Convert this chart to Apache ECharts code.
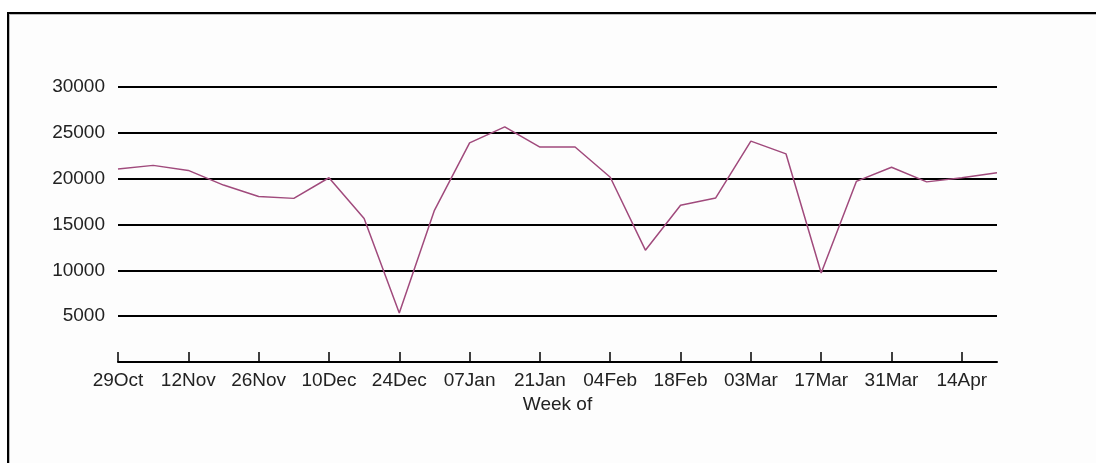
<!DOCTYPE html>
<html>
<head>
<meta charset="utf-8">
<script src="https://cdn.jsdelivr.net/npm/echarts@6/dist/echarts.min.js"></script>
<style>
html,body{margin:0;padding:0;background:#fff;}
#c{width:1096px;height:463px;}
</style>
</head>
<body>
<div id="c"></div>
<script>
const weeks = ["29Oct","05Nov","12Nov","19Nov","26Nov","03Dec","10Dec","17Dec","24Dec","31Dec",
  "07Jan","14Jan","21Jan","28Jan","04Feb","11Feb","18Feb","25Feb","03Mar","10Mar",
  "17Mar","24Mar","31Mar","07Apr","14Apr","21Apr"];
const values = [21050,21450,20900,19300,18050,17850,20100,15650,5350,16550,
  23900,25650,23450,23450,20150,12200,17100,17900,24100,22700,
  9700,19700,21250,19650,20100,20650];
const yTicks = [0,5000,10000,15000,20000,25000,30000];

const chart = echarts.init(document.getElementById('c'), null, {renderer:'canvas'});
const font = '"Liberation Sans", Arial, sans-serif';
chart.setOption({
  animation:false,
  backgroundColor:'#ffffff',
  graphic:[
    {type:'rect', z:-10, shape:{x:7,y:12,width:1200,height:600}, style:{fill:'#fdfdfd'}},
    {type:'line', z:-9, shape:{x1:7,y1:13,x2:1200,y2:13}, style:{stroke:'#000',lineWidth:2}},
    {type:'line', z:-9, shape:{x1:9,y1:14.5,x2:1200,y2:14.5}, style:{stroke:'#bbb',lineWidth:1}},
    {type:'line', z:-9, shape:{x1:8,y1:12,x2:8,y2:600}, style:{stroke:'#000',lineWidth:2}},
    {type:'line', z:-9, shape:{x1:9.5,y1:14,x2:9.5,y2:600}, style:{stroke:'#bbb',lineWidth:1}}
  ],
  grid:{left:118,right:99,top:87,bottom:101,containLabel:false},
  xAxis:{
    type:'category',
    data:weeks,
    boundaryGap:false,
    name:'Week of',
    nameLocation:'middle',
    nameGap:29,
    nameTextStyle:{fontFamily:font,fontSize:19,color:'#222'},
    axisLine:{show:true,lineStyle:{color:'#000',width:2}},
    axisTick:{show:true,inside:true,length:10,interval:1,lineStyle:{color:'#000',width:1.5}},
    axisLabel:{interval:1,margin:9,fontFamily:font,fontSize:19,color:'#222'},
    splitLine:{show:false}
  },
  yAxis:{
    type:'value',
    min:yTicks[0],
    max:yTicks[yTicks.length-1],
    interval:5000,
    axisLine:{show:false},
    axisTick:{show:false},
    axisLabel:{margin:13,fontFamily:font,fontSize:19,color:'#222',
      formatter:function(v){return v===0?'':String(v);}},
    splitLine:{show:true,lineStyle:{color:'#000',width:2}}
  },
  series:[{
    type:'line',
    data:values,
    symbol:'none',
    smooth:false,
    lineStyle:{color:'#a04a7c',width:1.5},
    z:5
  }]
});
</script>
</body>
</html>
